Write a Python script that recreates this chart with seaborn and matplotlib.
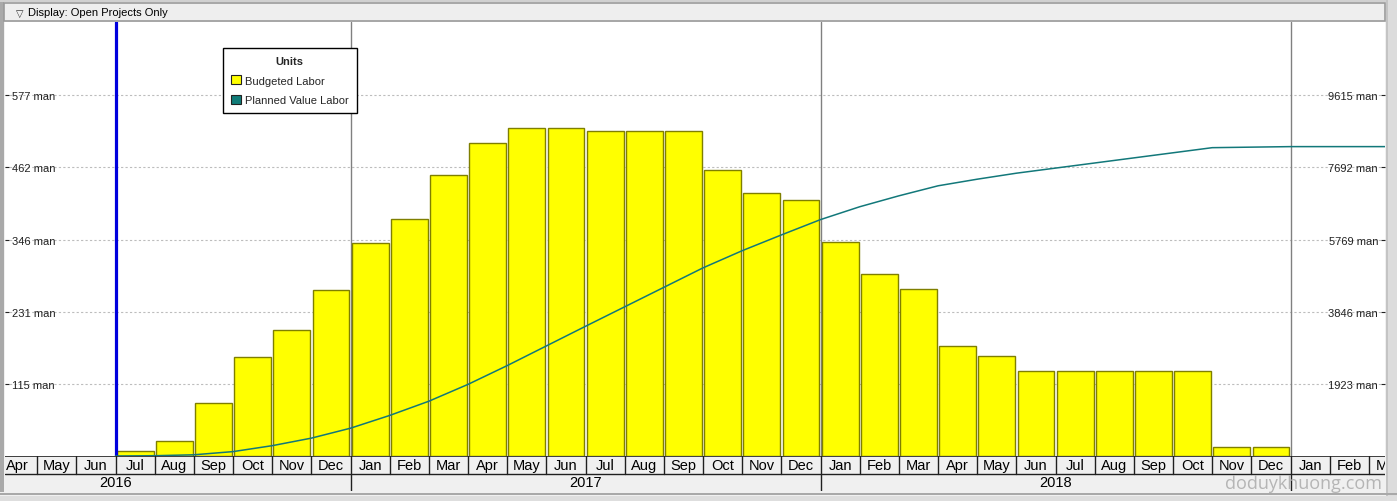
import numpy as np
import pandas as pd
import matplotlib
matplotlib.use("Agg")
import matplotlib.pyplot as plt
from matplotlib.patches import Rectangle, Patch
import seaborn as sns

# ---------------- data ----------------
month_labels = ["Apr", "May", "Jun", "Jul", "Aug", "Sep", "Oct", "Nov", "Dec",
                "Jan", "Feb", "Mar", "Apr", "May", "Jun", "Jul", "Aug", "Sep", "Oct", "Nov", "Dec",
                "Jan", "Feb", "Mar", "Apr", "May", "Jun", "Jul", "Aug", "Sep", "Oct", "Nov", "Dec",
                "Jan", "Feb", "Mar"]
year_labels = ["2016", "2017", "2018"]
year_start_index = [-3, 9, 21]          # month index of January of each year (Apr 2016 = 0)

# Budgeted Labor per month, Jul 2016 .. Dec 2018 (left axis, man)
budgeted_labor = [8, 24, 85, 158, 201, 265,
                  340, 379, 449, 500, 524, 524, 519, 519, 519, 457, 420, 409,
                  342, 291, 267, 176, 160, 136, 136, 136, 136, 136, 14, 14]
first_bar_index = 3                      # Jul 2016

# Planned Value Labor (cumulative, right axis), at month ends Jun 2016 .. Dec 2018
planned_value = [0, 8, 32, 117, 275, 476, 741,
                 1081, 1460, 1909, 2409, 2933, 3457, 3976, 4495, 5014, 5471, 5891, 6300,
                 6642, 6933, 7200, 7376, 7536, 7672, 7808, 7944, 8080, 8216, 8230, 8244]

left_tick_values = [115.4, 230.8, 346.2, 461.6, 577.0]
left_tick_labels = ["115 man", "231 man", "346 man", "462 man", "577 man"]
right_tick_values = [1923, 3846, 5769, 7692, 9615]
right_tick_labels = ["1923 man", "3846 man", "5769 man", "7692 man", "9615 man"]

data_date_index = 3                      # Jul 2016 (blue status line)

# ---------------- layout ----------------
W, H = 1397, 502
DPI = 100
fig = plt.figure(figsize=(W / DPI, H / DPI), dpi=DPI, facecolor="#f0f0f0")
sns.set_style("white")
plt.rcParams["font.family"] = ["Liberation Sans", "DejaVu Sans"]

def fx(px):
    return px / W

def fy(py):
    return 1 - py / H

x_left_px, x_right_px = 5, 1385
plot_top_px, plot_bot_px = 23, 457
band_bot_px = 492
month_w = 39.17
x0 = (x_left_px + 2) / month_w
x1 = (x_right_px + 2) / month_w

left_max = 694.0
right_max = left_max * 9615 / 577

# main axes
ax = fig.add_axes([fx(x_left_px), fy(plot_bot_px), fx(x_right_px - x_left_px),
                   (plot_bot_px - plot_top_px) / H])
ax.set_facecolor("white")

bar_pos = np.arange(len(budgeted_labor)) + first_bar_index + 0.5
df_bars = pd.DataFrame({"pos": bar_pos, "labor": budgeted_labor})
sns.barplot(data=df_bars, x="pos", y="labor", native_scale=True, width=0.94,
            color="#ffff00", saturation=1, edgecolor="#7f7f00", linewidth=1.0,
            ax=ax, zorder=2)

ax.set_xlim(x0, x1)
ax.set_ylim(0, left_max)
ax.set_xticks([])
ax.set_xlabel("")
ax.set_ylabel("")
for s in ax.spines.values():
    s.set_visible(False)

ax.set_yticks(left_tick_values, left_tick_labels)
ax.tick_params(axis="y", direction="in", length=3, width=0.8, pad=-5,
               labelsize=8, colors="#222222")
for t in ax.get_yticklabels():
    t.set_horizontalalignment("left")
ax.set_axisbelow(True)
ax.yaxis.grid(True, color="#bdbdbd", linestyle=(0, (2, 2)), linewidth=0.8)
ax.xaxis.grid(False)

# year separators
for yi in year_start_index[1:] + [year_start_index[-1] + 12]:
    ax.axvline(yi, color="#808080", linewidth=1.0, zorder=1)

# blue data-date line
ax.axvline(data_date_index, color="#0000dd", linewidth=2.3, zorder=5)

# right axis - planned value line
ax2 = ax.twinx()
pv_pos = list(np.arange(len(planned_value)) + first_bar_index) + [x1]
pv_vals = planned_value + [planned_value[-1]]
df_line = pd.DataFrame({"pos": pv_pos, "pv": pv_vals})
sns.lineplot(data=df_line, x="pos", y="pv", ax=ax2, color="#12787a",
             linewidth=1.1, zorder=4)
ax2.set_xlim(x0, x1)
ax2.set_ylim(0, right_max)
ax2.set_xlabel("")
ax2.set_ylabel("")
for s in ax2.spines.values():
    s.set_visible(False)
ax2.set_yticks(right_tick_values, right_tick_labels)
ax2.tick_params(axis="y", direction="in", length=3, width=0.8, pad=-5,
                labelsize=8, colors="#222222", right=True, labelright=True,
                left=False, labelleft=False)
for t in ax2.get_yticklabels():
    t.set_horizontalalignment("right")

# legend
handles = [Patch(facecolor="#ffff00", edgecolor="#222222", linewidth=0.8, label="Budgeted Labor"),
           Patch(facecolor="#117c78", edgecolor="#222222", linewidth=0.8, label="Planned Value Labor")]
leg = ax2.legend(handles=handles, title="Units", loc="upper left",
                 bbox_to_anchor=(fx(223), fy(49)), bbox_transform=fig.transFigure,
                 borderaxespad=0, fontsize=8, title_fontsize=8, fancybox=False,
                 framealpha=1, edgecolor="#000000", handlelength=0.9, handleheight=0.9,
                 handletextpad=0.35, borderpad=0.72, labelspacing=0.82)
leg.get_title().set_fontweight("bold")
leg.get_frame().set_linewidth(1.0)

# ---------------- bottom time band ----------------
band = fig.add_axes([fx(x_left_px), fy(band_bot_px), fx(x_right_px - x_left_px),
                     (band_bot_px - plot_bot_px) / H])
band.set_facecolor("#f0f0f0")
band.set_xlim(x0, x1)
band.set_ylim(0, 35)
band.set_xticks([])
band.set_yticks([])
for s in band.spines.values():
    s.set_visible(False)
band.axhline(35, color="#202020", linewidth=1.2)
band.axhline(17, color="#202020", linewidth=1.0)
for i, m in enumerate(month_labels):
    band.plot([i, i], [17, 35], color="#202020", linewidth=1.0)
    band.text(i + 0.5, 26, m, ha="center", va="center", fontsize=10.5,
              color="#000000", clip_on=True)
for ys, y in zip(year_start_index, year_labels):
    band.plot([ys + 12, ys + 12], [0, 17], color="#202020", linewidth=1.0)
    band.text(ys + 6, 8.5, y, ha="center", va="center", fontsize=10.5,
              color="#000000", clip_on=True)

# ---------------- frame / header decorations ----------------
deco = fig.add_axes([0, 0, 1, 1], zorder=-1)
deco.set_xlim(0, W)
deco.set_ylim(H, 0)
deco.axis("off")
deco.add_patch(Rectangle((0, 0), W, H, facecolor="#f0f0f0", edgecolor="none"))
deco.add_patch(Rectangle((0, 0), W, 3, facecolor="#d0d0d0", edgecolor="none"))
deco.add_patch(Rectangle((0, 3), 4, 490, facecolor="#a9a9a9", edgecolor="none"))
deco.add_patch(Rectangle((1386, 0), 11, H, facecolor="#dcdcdc", edgecolor="none"))
deco.add_patch(Rectangle((1386, 0), 2, H, facecolor="#c4c4c4", edgecolor="none"))
deco.add_patch(Rectangle((4, 4), 1381, 18, facecolor="#eeeeee", edgecolor="#9a9a9a", linewidth=1.2))
deco.add_patch(Rectangle((0, 494), W, 2, facecolor="#a9a9a9", edgecolor="none"))
deco.add_patch(Rectangle((0, 497), W, 5, facecolor="#dedede", edgecolor="none"))

fig.text(fx(20), fy(13.5), "▽", fontsize=7, ha="center", va="center",
         color="#333333", family=["DejaVu Sans"])
fig.text(fx(28), fy(13.5), "Display: Open Projects Only", fontsize=8,
         ha="left", va="center", color="#000000")

fig.text(fx(1304), fy(484), "doduykhuong.com", fontsize=13, ha="center", va="center",
         color="#b5b5b5", family=["Open Sans", "DejaVu Sans"], zorder=10)

fig.savefig("out.png", dpi=DPI, facecolor=fig.get_facecolor())
